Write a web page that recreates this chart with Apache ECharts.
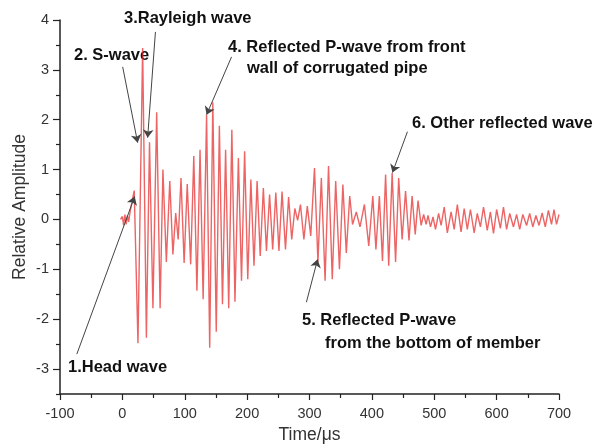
<!DOCTYPE html>
<html>
<head>
<meta charset="utf-8">
<script src="https://cdn.jsdelivr.net/npm/echarts@6/dist/echarts.min.js"></script>
<style>html,body{margin:0;padding:0;background:#fff}#c{width:607px;height:445px}</style>
</head>
<body>
<div id="c"></div>
<script>
// Time (μs) of each read-off extremum of the waveform
const times = [-3, 0, 2, 4, 6, 8, 10, 13, 19, 25, 32.5, 38.5, 43.5, 49, 55, 60.5, 65, 70.5, 76, 81, 85.5, 89.5, 94, 99, 104, 109.5, 114.5, 119.5, 124.5, 129.5, 135, 140, 145, 150.5, 155.5, 160.5, 165.5, 170.5, 175.5, 180.5, 186, 191, 196, 201, 206, 211, 216, 221, 226, 231, 236, 241, 246, 251, 256, 261.5, 266.5, 271.5, 276.5, 281, 285.5, 291, 296.5, 302, 308, 313.5, 319, 325, 330.5, 336.5, 342, 348, 353.5, 359, 364.5, 369, 375, 381, 388, 395, 401.5, 406.5, 412, 417, 422, 427, 432.5, 438, 443, 448.5, 454, 459.5, 464.5, 469.5, 474, 479, 483, 487, 490, 494, 498, 502, 507, 511, 516, 521, 527, 532, 537, 543, 548, 553, 558, 564, 569, 574, 579, 585, 590, 595, 600, 606, 611, 616, 621, 627, 632, 637, 642, 648, 653, 658, 663, 668, 673, 678, 683, 688, 692, 696, 700];
// Relative amplitude at those times
const amplitude = [0, 0.06, -0.12, 0.1, -0.1, 0.08, -0.05, 0.2, 0.58, -2.48, 3.44, -2.37, 1.55, -1.78, 2.15, -1.78, 1.0, -0.85, 0.77, -0.7, 0.13, -0.4, 0.83, -0.87, 0.71, -0.9, 1.27, -1.43, 1.4, -1.6, 2.1, -2.57, 2.35, -2.25, 1.88, -1.7, 1.4, -1.78, 1.8, -1.65, 1.23, -1.23, 1.37, -1.2, 0.8, -0.93, 0.77, -0.73, 0.63, -0.63, 0.5, -0.6, 0.54, -0.63, 0.56, -0.6, 0.45, -0.4, 0.22, -0.02, 0.3, -0.4, 0.27, -0.33, 1.03, -0.85, 0.83, -1.23, 1.07, -1.2, 0.77, -1.0, 0.7, -0.67, 0.47, -0.1, 0.15, -0.15, 0.3, -0.53, 0.47, -0.6, 0.47, -0.83, 0.9, -0.93, 0.93, -0.85, 0.83, -0.4, 0.57, -0.42, 0.47, -0.3, 0.38, -0.12, 0.1, -0.1, 0.08, -0.15, 0.05, -0.2, 0.12, -0.12, 0.25, -0.27, 0.15, -0.2, 0.3, -0.25, 0.22, -0.2, 0.2, -0.27, 0.12, -0.15, 0.25, -0.22, 0.15, -0.28, 0.2, -0.18, 0.25, -0.2, 0.12, -0.15, 0.1, -0.2, 0.1, -0.12, 0.12, -0.15, 0.08, -0.12, 0.13, -0.15, 0.18, -0.1, 0.2, -0.1, 0.1];

const yTickValues = [-3, -2, -1, 0, 1, 2, 3, 4];
const yMinorTickValues = [-3.5, -2.5, -1.5, -0.5, 0.5, 1.5, 2.5, 3.5];

// Annotation arrows: [time, amplitude] of the tail and of the tip
const arrowStart = [[-73, -2.7], [0.5, 3.06], [53, 3.76], [175, 3.26], [295, -1.66], [457, 1.76]];
const arrowTip = [[19.7, 0.46], [24.5, 1.54], [40.5, 1.64], [135, 2.1], [313, -0.8], [433, 0.94]];
const annotationTexts = ['1.Head wave', '2. S-wave', '3.Rayleigh wave', '4. Reflected P-wave from front', 'wall of corrugated pipe', '5. Reflected P-wave', 'from the bottom of member', '6. Other reflected wave'];

const FONT = 'Arial, "Liberation Sans", sans-serif';
const chart = echarts.init(document.getElementById('c'), null, {renderer: 'canvas'});

const textPos = [[68, 367], [74, 55], [124, 18], [228, 47], [247, 68], [302, 320], [325, 343], [412, 123]];

chart.setOption({
  animation: false,
  backgroundColor: '#fff',
  grid: {left: 60, right: 48, top: 20, bottom: 51, containLabel: false, outerBoundsMode: 'none'},
  xAxis: {
    type: 'value', min: -100, max: 700, interval: 100,
    name: 'Time/μs', nameLocation: 'middle', nameGap: 30,
    nameTextStyle: {color: '#333', fontSize: 17.5, fontFamily: FONT},
    axisLine: {show: true, onZero: false, lineStyle: {color: '#222', width: 1.5}},
    splitLine: {show: false},
    axisTick: {show: true, inside: false, length: 6, lineStyle: {color: '#222', width: 1.2}},
    minorTick: {show: true, splitNumber: 2, length: 4, lineStyle: {color: '#222', width: 1.2}},
    axisLabel: {color: '#333', fontSize: 14.5, fontFamily: FONT, margin: 12}
  },
  yAxis: [
    {
      type: 'value', min: -3.5, max: 4,
      name: 'Relative Amplitude', nameLocation: 'middle', nameGap: 31, nameMoveOverlap: false,
      nameTextStyle: {color: '#333', fontSize: 17.5, fontFamily: FONT},
      axisLine: {show: true, onZero: false, lineStyle: {color: '#222', width: 1.5}},
      splitLine: {show: false},
      axisTick: {show: true, inside: false, length: 7, customValues: yTickValues, lineStyle: {color: '#222', width: 1.2}},
      axisLabel: {color: '#333', fontSize: 14.5, fontFamily: FONT, margin: 11, customValues: yTickValues}
    },
    {
      type: 'value', min: -3.5, max: 4, position: 'left',
      axisLine: {show: false, onZero: false}, splitLine: {show: false}, axisLabel: {show: false},
      axisTick: {show: true, inside: false, length: 4, customValues: yMinorTickValues, lineStyle: {color: '#222', width: 1.2}}
    }
  ],
  series: [{
    type: 'line',
    data: times.map((t, i) => [t, amplitude[i]]),
    showSymbol: false,
    symbol: 'none',
    lineStyle: {color: 'rgba(228,40,40,0.72)', width: 1.4},
    silent: true,
    markLine: {
      silent: true,
      symbol: ['none', 'arrow'],
      symbolSize: 8,
      label: {show: false},
      lineStyle: {color: '#444', width: 1, type: 'solid'},
      itemStyle: {color: '#111'},
      data: arrowStart.map((s, i) => [{coord: s}, {coord: arrowTip[i]}])
    }
  }],
  graphic: annotationTexts.map((txt, i) => ({
    type: 'text', x: textPos[i][0], y: textPos[i][1], silent: true,
    style: {text: txt, fill: '#111', font: 'bold 16.5px ' + FONT, textVerticalAlign: 'middle', textAlign: 'left'}
  }))
});
</script>
</body>
</html>
